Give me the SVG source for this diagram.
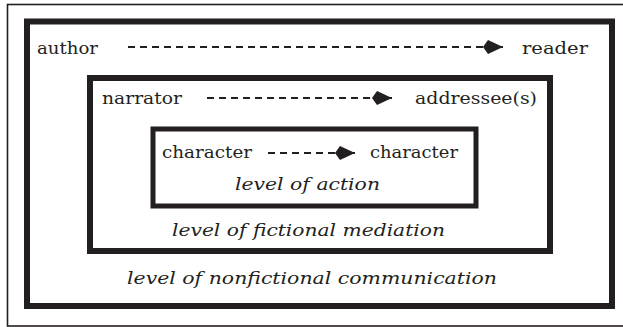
<svg xmlns="http://www.w3.org/2000/svg" width="623" height="327" viewBox="0 0 623 327">
<style>
.box{fill:none;stroke:#231f20}
.dash{stroke:#231f20;stroke-width:2;stroke-dasharray:7 5;fill:none}
.t{font-family:"DejaVu Serif","Liberation Serif",serif;font-size:17px;fill:#231f20}
.i{font-family:"DejaVu Serif","Liberation Serif",serif;font-size:17px;font-style:italic;fill:#231f20}
</style>
<defs>
<marker id="ah" markerUnits="userSpaceOnUse" markerWidth="22" markerHeight="16" refX="20" refY="8" orient="auto">
<path d="M0,8 L5,1 L20,8 L5,15 Z" fill="#231f20"/>
</marker>
</defs>
<rect x="7.5" y="4.5" width="630" height="321.5" fill="none" stroke="#231f20" stroke-width="1.6"/>
<g id="level-nonfictional">
<rect class="box" x="27" y="21.5" width="585" height="284.5" stroke-width="6"/>
<text class="t" x="37" y="54" textLength="61" lengthAdjust="spacingAndGlyphs">author</text>
<text class="t" x="522" y="54" textLength="66" lengthAdjust="spacingAndGlyphs">reader</text>
<text class="i" x="127" y="284" textLength="370" lengthAdjust="spacingAndGlyphs">level of nonfictional communication</text>
</g>
<g id="level-fictional">
<rect class="box" x="90" y="78" width="460" height="173" stroke-width="6"/>
<text class="t" x="102" y="104" textLength="80" lengthAdjust="spacingAndGlyphs">narrator</text>
<text class="t" x="415" y="104" textLength="122" lengthAdjust="spacingAndGlyphs">addressee(s)</text>
<text class="i" x="172" y="236" textLength="273" lengthAdjust="spacingAndGlyphs">level of fictional mediation</text>
</g>
<g id="level-action">
<rect class="box" x="153" y="129" width="323" height="77" stroke-width="5"/>
<text class="t" x="162" y="158" textLength="90" lengthAdjust="spacingAndGlyphs">character</text>
<text class="t" x="370" y="158" textLength="88" lengthAdjust="spacingAndGlyphs">character</text>
<text class="i" x="235" y="190" textLength="145" lengthAdjust="spacingAndGlyphs">level of action</text>
</g>
<g id="connectors">
<line class="dash" x1="128" y1="47" x2="503" y2="47" marker-end="url(#ah)"/>
<line class="dash" x1="207" y1="98" x2="392" y2="98" marker-end="url(#ah)"/>
<line class="dash" x1="268" y1="153" x2="355" y2="153" marker-end="url(#ah)"/>
</g>
</svg>
